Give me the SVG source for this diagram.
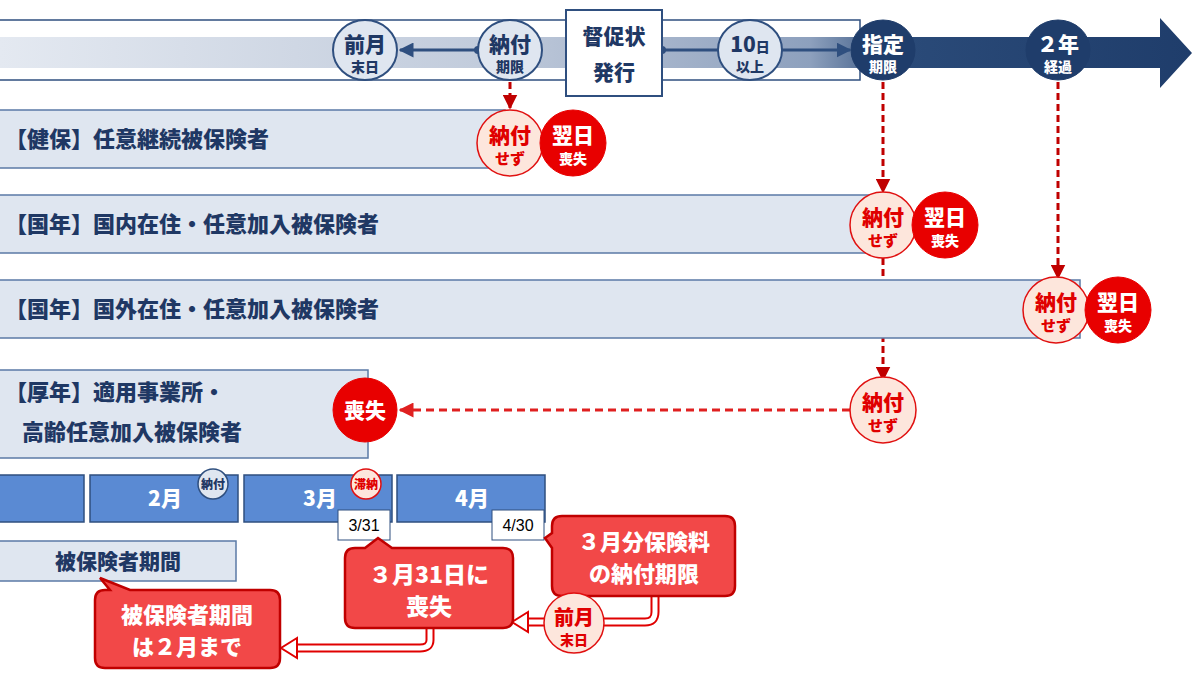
<svg xmlns="http://www.w3.org/2000/svg" width="1200" height="675" viewBox="0 0 1200 675">
<defs>
<linearGradient id="band" x1="0" x2="1" y1="0" y2="0">
<stop offset="0" stop-color="#e4e9f1"/><stop offset="0.4" stop-color="#c2ccdc"/><stop offset="0.68" stop-color="#8da0bd"/><stop offset="0.76" stop-color="#2a4a78"/><stop offset="1" stop-color="#1f3d6b"/>
</linearGradient>
<marker id="ah" viewBox="0 0 10 10" refX="9" refY="5" markerWidth="5" markerHeight="5" orient="auto"><path d="M0,0L10,5L0,10z" fill="#2f4f7f"/></marker>
<marker id="rh" viewBox="0 0 10 10" refX="9" refY="5" markerWidth="5" markerHeight="5" orient="auto"><path d="M0,0L10,5L0,10z" fill="#c00000"/></marker>
<marker id="rh2" viewBox="0 0 10 10" refX="9" refY="5" markerWidth="5" markerHeight="5" orient="auto"><path d="M0,0L10,5L0,10z" fill="#e02020"/></marker>
</defs>
<style>
text{font-family:"Noto Sans CJK JP","Noto Sans",sans-serif;font-weight:900;text-anchor:middle}
.nw{font-weight:normal;font-family:"Liberation Sans",sans-serif}
.row{fill:#dfe6f0;stroke:#5b7aa6;stroke-width:1.5}
.rl{fill:#1f3864;font-size:22px;text-anchor:start}
.tc{fill:#dfe6f0;stroke:#2f4f7f;stroke-width:2}
.dc{fill:#1f3d6b;stroke:#1f3d6b}
.nt{fill:#1f3864}
.pc{fill:#fde6dc;stroke:#e01010;stroke-width:1.5}
.rc{fill:#e80000;stroke:#e80000}
.mon{fill:#5a8ad3;stroke:#2f4f7f;stroke-width:1.5}
.call{fill:#f24848;stroke:#c00000;stroke-width:2.5}
.wt{fill:#fff}
.rt{fill:#e00000}
</style>
<g id="timeline">
<rect x="-2" y="20" width="862" height="60" fill="#fff" stroke="#2f4f7f" stroke-width="1.5"/>
<path d="M0,37H1160V18L1192,53L1160,88V68H0Z" fill="url(#band)"/>
</g>
<g id="connectors">
<line x1="478" y1="50" x2="400" y2="50" stroke="#2f4f7f" stroke-width="3" marker-end="url(#ah)"/>
<circle cx="478" cy="50" r="4" fill="#2f4f7f"/>
<line x1="662" y1="50" x2="718" y2="50" stroke="#2f4f7f" stroke-width="3"/>
<circle cx="662" cy="50" r="4" fill="#2f4f7f"/>
<line x1="782" y1="50" x2="850" y2="50" stroke="#2f4f7f" stroke-width="3" marker-end="url(#ah)"/>
<g stroke="#c00000" stroke-width="3" stroke-dasharray="7,4" fill="none">
<line x1="510" y1="82" x2="510" y2="108" marker-end="url(#rh)"/>
<line x1="883" y1="82" x2="883" y2="192" marker-end="url(#rh)"/>
<line x1="883" y1="258" x2="883" y2="380" marker-end="url(#rh)"/>
<line x1="1058" y1="82" x2="1058" y2="278" marker-end="url(#rh)"/>
</g>
<line x1="850" y1="410" x2="400" y2="410" stroke="#e02020" stroke-width="3" stroke-dasharray="8,5" marker-end="url(#rh2)"/>
<path d="M655,588V612Q655,622 645,622H525" fill="none" stroke="#e00000" stroke-width="9"/>
<path d="M655,588V612Q655,622 645,622H525" fill="none" stroke="#fff" stroke-width="5"/>
<path d="M528,612L512,622L528,632Z" fill="#fff" stroke="#e00000" stroke-width="2"/>
<path d="M430,625V640Q430,648 420,648H295" fill="none" stroke="#e00000" stroke-width="9"/>
<path d="M430,625V640Q430,648 420,648H295" fill="none" stroke="#fff" stroke-width="5"/>
<path d="M297,638L281,648L297,658Z" fill="#fff" stroke="#e00000" stroke-width="2"/>
</g>
<g id="zengetsu"><ellipse class="tc" cx="365" cy="50" rx="32" ry="30"/><text class="nt" x="365" y="52" font-size="21">前月</text><text class="nt" x="365" y="72" font-size="14">末日</text></g>
<g id="noufukigen"><ellipse class="tc" cx="510" cy="50" rx="32" ry="30"/><text class="nt" x="510" y="52" font-size="21">納付</text><text class="nt" x="510" y="72" font-size="14">期限</text></g>
<g id="tokusoku"><rect x="566" y="10" width="96" height="86" fill="#fff" stroke="#2f4f7f" stroke-width="2"/><text class="nt" x="614" y="44" font-size="21">督促状</text><text class="nt" x="614" y="80" font-size="21">発行</text></g>
<g id="10days"><ellipse class="tc" cx="750" cy="50" rx="32" ry="30"/><text class="nt" x="750" y="52" font-size="21">10<tspan font-size="14">日</tspan></text><text class="nt" x="750" y="72" font-size="14">以上</text></g>
<g id="shitei"><ellipse class="dc" cx="883" cy="50" rx="32" ry="30"/><text class="wt" x="883" y="52" font-size="21">指定</text><text class="wt" x="883" y="72" font-size="14">期限</text></g>
<g id="2years"><ellipse class="dc" cx="1058" cy="50" rx="32" ry="30"/><text class="wt" x="1058" y="52" font-size="21">２年</text><text class="wt" x="1058" y="72" font-size="14">経過</text></g>
<g id="row1"><rect class="row" x="-2" y="110" width="507" height="58"/><text class="rl" x="5" y="147">【健保】任意継続被保険者</text></g>
<g id="row2"><rect class="row" x="-2" y="195" width="877" height="58"/><text class="rl" x="5" y="232">【国年】国内在住・任意加入被保険者</text></g>
<g id="row3"><rect class="row" x="-2" y="280" width="1082" height="58"/><text class="rl" x="5" y="317">【国年】国外在住・任意加入被保険者</text></g>
<g id="row4"><rect class="row" x="-2" y="370" width="370" height="88"/><text class="rl" x="5" y="400">【厚年】適用事業所・</text><text class="rl" x="22" y="440">高齢任意加入被保険者</text></g>
<g id="r1a"><circle class="pc" cx="510" cy="143" r="33"/><text class="rt" x="510" y="143" font-size="21">納付</text><text class="rt" x="510" y="164" font-size="15">せず</text></g>
<g id="r1b"><circle class="rc" cx="573" cy="143" r="33"/><text class="wt" x="573" y="143" font-size="21">翌日</text><text class="wt" x="573" y="164" font-size="14">喪失</text></g>
<g id="r2a"><circle class="pc" cx="883" cy="225" r="33"/><text class="rt" x="883" y="225" font-size="21">納付</text><text class="rt" x="883" y="246" font-size="15">せず</text></g>
<g id="r2b"><circle class="rc" cx="945" cy="225" r="33"/><text class="wt" x="945" y="225" font-size="21">翌日</text><text class="wt" x="945" y="246" font-size="14">喪失</text></g>
<g id="r3a"><circle class="pc" cx="1056" cy="310" r="33"/><text class="rt" x="1056" y="310" font-size="21">納付</text><text class="rt" x="1056" y="331" font-size="15">せず</text></g>
<g id="r3b"><circle class="rc" cx="1118" cy="310" r="33"/><text class="wt" x="1118" y="310" font-size="21">翌日</text><text class="wt" x="1118" y="331" font-size="14">喪失</text></g>
<g id="r4a"><circle class="pc" cx="883" cy="410" r="33"/><text class="rt" x="883" y="410" font-size="21">納付</text><text class="rt" x="883" y="431" font-size="15">せず</text></g>
<g id="r4b"><circle class="rc" cx="365" cy="410" r="32"/><text class="wt" x="365" y="418" font-size="21">喪失</text></g>
<g id="m1"><rect class="mon" x="-2" y="475" width="86" height="47"/></g>
<g id="m2"><rect class="mon" x="90" y="475" width="148" height="47"/><text class="wt" x="165" y="506" font-size="21">2月</text></g>
<g id="m3"><rect class="mon" x="244" y="475" width="148" height="47"/><text class="wt" x="320" y="506" font-size="21">3月</text></g>
<g id="m4"><rect class="mon" x="397" y="475" width="148" height="47"/><text class="wt" x="472" y="506" font-size="21">4月</text></g>
<g id="nofu2"><circle cx="213" cy="484" r="15" fill="#dfe6f0" stroke="#2f4f7f" stroke-width="1.5"/><text class="nt" x="213" y="489" font-size="12">納付</text></g>
<g id="tainou"><circle cx="366" cy="484" r="15" fill="#fde6dc" stroke="#e01010" stroke-width="1.5"/><text class="rt" x="366" y="489" font-size="12">滞納</text></g>
<g id="d331"><rect x="338" y="510" width="52" height="30" fill="#fff" stroke="#2f4f7f"/><text class="nw" x="364" y="531" font-size="16" fill="#000">3/31</text></g>
<g id="d430"><rect x="492" y="510" width="52" height="30" fill="#fff" stroke="#2f4f7f"/><text class="nw" x="518" y="531" font-size="16" fill="#000">4/30</text></g>
<g id="kikan"><rect class="row" x="-2" y="541" width="238" height="40"/><text class="nt" x="118" y="569" font-size="21">被保険者期間</text></g>
<g id="c1"><path class="call" d="M355,548H365L378,538L392,548H503Q513,548 513,558V618Q513,628 503,628H355Q345,628 345,618V558Q345,548 355,548Z"/><text class="wt" x="429" y="583" font-size="23">３月31日に</text><text class="wt" x="429" y="615" font-size="23">喪失</text></g>
<g id="c2"><path class="call" d="M562,516H725Q735,516 735,526V586Q735,596 725,596H562Q552,596 552,586V548L545,538L552,533V526Q552,516 562,516Z"/><text class="wt" x="644" y="550" font-size="22">３月分保険料</text><text class="wt" x="644" y="582" font-size="22">の納付期限</text></g>
<g id="c3"><path class="call" d="M105,590H110L100,578L130,590H270Q280,590 280,600V658Q280,668 270,668H105Q95,668 95,658V600Q95,590 105,590Z"/><text class="wt" x="187" y="623" font-size="22">被保険者期間</text><text class="wt" x="187" y="655" font-size="22">は２月まで</text></g>
<g id="zengetsu2"><circle class="pc" cx="574" cy="623" r="30"/><text class="rt" x="574" y="625" font-size="20">前月</text><text class="rt" x="574" y="645" font-size="14">末日</text></g>
</svg>
